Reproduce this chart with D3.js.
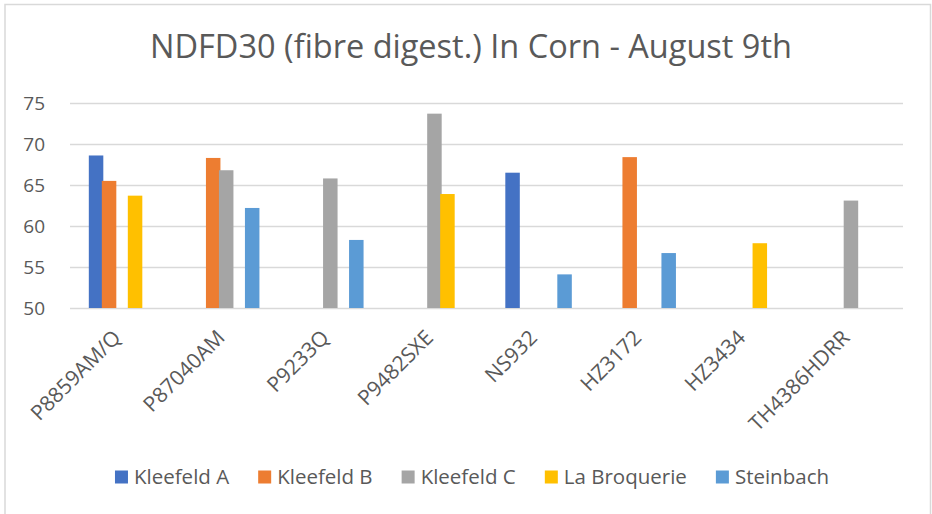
<!DOCTYPE html>
<html>
<head>
<meta charset="utf-8">
<script src="https://cdn.jsdelivr.net/npm/d3@7"></script>
<style>
  body { margin: 0; background: #fff; }
  text { font-family: "Open Sans", Lato, sans-serif; fill: #595959; }
</style>
</head>
<body>
<script>
// Chart data
var hybrids = ["P8859AM/Q", "P87040AM", "P9233Q", "P9482SXE", "NS932", "HZ3172", "HZ3434", "TH4386HDRR"];
var sites = ["Kleefeld A", "Kleefeld B", "Kleefeld C", "La Broquerie", "Steinbach"];
var kleefeldA   = [68.6, null, null, null, 66.5, null, null, null];
var kleefeldB   = [65.5, 68.3, null, null, null, 68.4, null, null];
var kleefeldC   = [null, 66.8, 65.8, 73.7, null, null, null, 63.1];
var laBroquerie = [63.7, null, null, 63.9, null, null, 57.9, null];
var steinbach   = [null, 62.2, 58.3, null, 54.1, 56.7, null, null];
var yTicks = [50, 55, 60, 65, 70, 75];

var siteValues = [kleefeldA, kleefeldB, kleefeldC, laBroquerie, steinbach];
var colors = ["#4472C4", "#ED7D31", "#A5A5A5", "#FFC000", "#5B9BD5"];

// SVG area
var svgWidth = 932;
var svgHeight = 514;

var margin = { top: 103, right: 29, bottom: 206, left: 70 };
var chartWidth = svgWidth - margin.left - margin.right;
var chartHeight = svgHeight - margin.top - margin.bottom;

var svg = d3.select("body")
  .append("svg")
  .attr("width", svgWidth)
  .attr("height", svgHeight);

// outer chart border
svg.append("rect")
  .attr("x", 5)
  .attr("y", 4.5)
  .attr("width", 925.5)
  .attr("height", 530)
  .attr("fill", "none")
  .attr("stroke", "#d9d9d9")
  .attr("stroke-width", 1.5);

// title
svg.append("text")
  .attr("x", 471)
  .attr("y", 58)
  .attr("text-anchor", "middle")
  .style("font-size", "32.5px")
  .text("NDFD30 (fibre digest.) In Corn - August 9th");

var chartGroup = svg.append("g")
  .attr("transform", `translate(${margin.left}, ${margin.top})`);

// scales
var x0 = d3.scaleBand()
  .domain(hybrids)
  .range([0, chartWidth])
  .padding(0);

var x1 = d3.scaleBand()
  .domain(sites)
  .range([0, 65]);

var yScale = d3.scaleLinear()
  .domain([50, 75])
  .range([chartHeight, 0]);

// y axis with gridlines
var yAxis = d3.axisLeft(yScale)
  .tickValues(yTicks)
  .tickSize(-chartWidth)
  .tickPadding(25);

var yG = chartGroup.append("g").call(yAxis);
yG.select(".domain").remove();
yG.selectAll("line").attr("stroke", "#d9d9d9").attr("stroke-width", 1.5);
yG.selectAll("text")
  .style("font-size", "19px")
  .attr("fill", "#595959");

// x axis with rotated labels
var xAxis = d3.axisBottom(x0).tickSize(0).tickPadding(0);
var xG = chartGroup.append("g")
  .attr("transform", `translate(0, ${chartHeight})`)
  .call(xAxis);
xG.select(".domain").remove();
xG.selectAll("text")
  .style("font-size", "21px")
  .attr("fill", "#595959")
  .attr("text-anchor", "end")
  .attr("y", 0)
  .attr("dy", 0)
  .attr("transform", "translate(0, 31) rotate(-45)");

// bars
var groupOffset = (x0.bandwidth() - 66.5) / 2;
sites.forEach(function(site, i) {
  var rows = hybrids.map(function(h, j) {
    return { hybrid: h, value: siteValues[i][j] };
  }).filter(d => d.value != null);

  chartGroup.selectAll(".bar-" + i)
    .data(rows)
    .enter()
    .append("rect")
    .attr("class", "bar-" + i)
    .attr("x", d => x0(d.hybrid) + groupOffset + x1(site))
    .attr("y", d => yScale(d.value))
    .attr("width", x1.bandwidth() + 1.5)
    .attr("height", d => chartHeight - yScale(d.value))
    .attr("fill", colors[i]);
});

// legend
var legend = svg.append("g").attr("transform", "translate(0, 477)");
var items = legend.selectAll(".item")
  .data(sites)
  .enter()
  .append("g")
  .attr("class", "item");

items.append("rect")
  .attr("x", 0)
  .attr("y", -6.5)
  .attr("width", 13)
  .attr("height", 13)
  .attr("fill", (d, i) => colors[i]);

items.append("text")
  .attr("x", 19)
  .attr("dy", "0.36em")
  .style("font-size", "20.5px")
  .text(d => d);

// lay legend items out side by side, centred
var gap = 29;
var widths = [];
items.each(function() { widths.push(this.getBBox().width); });
var total = d3.sum(widths) + gap * (widths.length - 1);
var pos = 472 - total / 2;
items.attr("transform", function(d, i) {
  var t = `translate(${pos}, 0)`;
  pos += widths[i] + gap;
  return t;
});
</script>
</body>
</html>
